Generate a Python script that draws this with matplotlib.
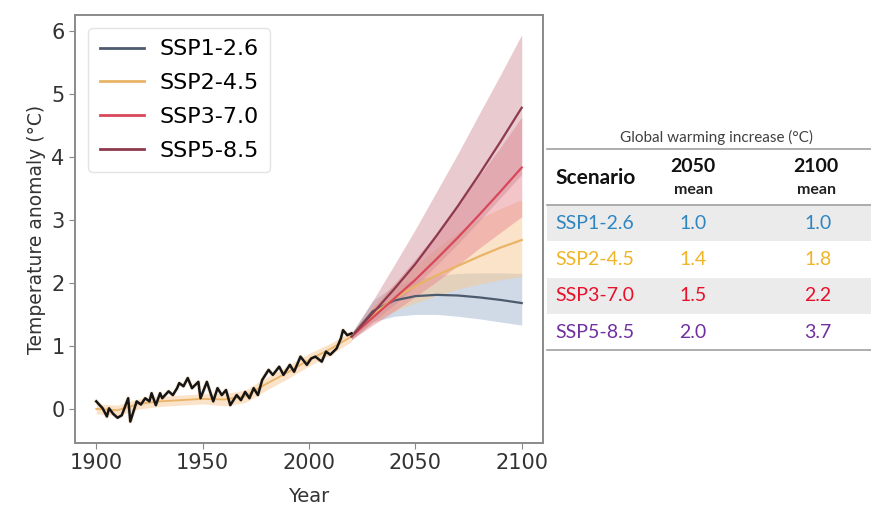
import matplotlib
matplotlib.use("Agg")
import matplotlib.pyplot as plt
from matplotlib.patches import Rectangle
from matplotlib.lines import Line2D

# ---------------- data ----------------
hist_years = [1900, 1903, 1905, 1906, 1908, 1910, 1912, 1915, 1916, 1919, 1921, 1923,
              1925, 1926, 1928, 1930, 1931, 1934, 1936, 1938, 1939, 1941, 1943, 1945,
              1948, 1949, 1952, 1955, 1957, 1959, 1961, 1963, 1966, 1968, 1970, 1972,
              1974, 1976, 1978, 1981, 1983, 1986, 1988, 1991, 1993, 1996, 1999, 2001,
              2003, 2006, 2008, 2010, 2013, 2015, 2016, 2018, 2020]
hist_obs = [0.12, 0.01, -0.12, 0.01, -0.08, -0.14, -0.10, 0.17, -0.20, 0.12, 0.07, 0.17,
            0.12, 0.25, 0.06, 0.25, 0.17, 0.28, 0.22, 0.33, 0.41, 0.36, 0.49, 0.33,
            0.43, 0.17, 0.43, 0.12, 0.33, 0.22, 0.30, 0.06, 0.22, 0.14, 0.27, 0.17,
            0.33, 0.22, 0.46, 0.62, 0.54, 0.67, 0.54, 0.70, 0.59, 0.83, 0.70, 0.80,
            0.83, 0.75, 0.91, 0.86, 0.96, 1.12, 1.25, 1.17, 1.20]

model_years = [1900, 1910, 1920, 1930, 1940, 1950, 1960, 1970, 1980, 1990, 2000, 2010, 2020]
model_hist = [0.00, -0.02, 0.08, 0.12, 0.14, 0.16, 0.15, 0.20, 0.40, 0.58, 0.78, 0.95, 1.15]
model_hist_lo = [-0.08, -0.10, 0.00, 0.04, 0.06, 0.08, 0.05, 0.10, 0.30, 0.48, 0.68, 0.86, 1.07]
model_hist_hi = [0.08, 0.06, 0.16, 0.20, 0.22, 0.24, 0.24, 0.30, 0.50, 0.68, 0.88, 1.04, 1.23]

proj_years = [2020, 2030, 2040, 2050, 2060, 2070, 2080, 2090, 2100]
scenarios = ["SSP1-2.6", "SSP2-4.5", "SSP3-7.0", "SSP5-8.5"]
ssp126 = [1.15, 1.55, 1.72, 1.79, 1.81, 1.80, 1.77, 1.73, 1.68]
ssp126_lo = [1.10, 1.38, 1.47, 1.50, 1.50, 1.47, 1.43, 1.38, 1.33]
ssp126_hi = [1.20, 1.72, 1.95, 2.05, 2.12, 2.15, 2.16, 2.16, 2.15]
ssp245 = [1.15, 1.50, 1.75, 1.95, 2.12, 2.27, 2.42, 2.56, 2.68]
ssp245_lo = [1.10, 1.38, 1.55, 1.68, 1.80, 1.90, 1.98, 2.05, 2.10]
ssp245_hi = [1.20, 1.65, 1.98, 2.28, 2.55, 2.80, 3.02, 3.18, 3.32]
ssp370 = [1.15, 1.45, 1.75, 2.05, 2.38, 2.72, 3.08, 3.45, 3.83]
ssp370_lo = [1.10, 1.33, 1.55, 1.78, 2.02, 2.28, 2.55, 2.80, 3.05]
ssp370_hi = [1.20, 1.60, 1.98, 2.38, 2.80, 3.25, 3.70, 4.15, 4.63]
ssp585 = [1.15, 1.52, 1.90, 2.30, 2.75, 3.22, 3.72, 4.24, 4.78]
ssp585_lo = [1.10, 1.38, 1.65, 1.95, 2.28, 2.62, 2.98, 3.35, 3.72]
ssp585_hi = [1.20, 1.72, 2.28, 2.85, 3.45, 4.05, 4.68, 5.30, 5.94]

x_ticks = [1900, 1950, 2000, 2050, 2100]
y_ticks = [0, 1, 2, 3, 4, 5, 6]

table_title = "Global warming increase (°C)"
table_cols = ["2050", "2100"]
mean_2050 = ["1.0", "1.4", "1.5", "2.0"]
mean_2100 = ["1.0", "1.8", "2.2", "3.7"]

# ---------------- styles ----------------
line_colors = ["#4d5b6e", "#e9b466", "#d9475a", "#8e3a4e"]
band_colors = ["#a9bdd3", "#f9c994", "#e98a92", "#cf8a96"]
band_alphas = [0.55, 0.5, 0.5, 0.45]
text_colors = ["#2e86c1", "#f0b429", "#e8102a", "#7030a0"]

fig = plt.figure(figsize=(8.71, 5.09), dpi=100)
ax = fig.add_axes([0.0861, 0.1297, 0.5373, 0.8408])

# historical model band + line
ax.fill_between(model_years, model_hist_lo, model_hist_hi, color="#f9c994", alpha=0.5, lw=0)
ax.plot(model_years, model_hist, color="#e9b466", lw=1.3)

proj = [(ssp126, ssp126_lo, ssp126_hi), (ssp245, ssp245_lo, ssp245_hi),
        (ssp370, ssp370_lo, ssp370_hi), (ssp585, ssp585_lo, ssp585_hi)]
for (m, lo, hi), name, lc, bc, ba in zip(proj, scenarios, line_colors, band_colors, band_alphas):
    ax.fill_between(proj_years, lo, hi, color=bc, alpha=ba, lw=0)
for (m, lo, hi), name, lc in zip(proj, scenarios, line_colors):
    ax.plot(proj_years, m, color=lc, lw=1.6, label=name)

ax.plot(hist_years, hist_obs, color="#f5c48a", lw=3.0, alpha=0.35)
ax.plot(hist_years, hist_obs, color="#151515", lw=1.8)

ax.set_xlim(1890, 2110)
ax.set_ylim(-0.54, 6.25)
ax.set_xticks(x_ticks)
ax.set_yticks(y_ticks)
ax.tick_params(labelsize=15, colors="#333333", length=4, color="#888888")
ax.set_xlabel("Year", fontsize=14, color="#333333", labelpad=10)
ax.set_ylabel("Temperature anomaly (°C)", fontsize=13.5, color="#333333")
for s in ax.spines.values():
    s.set_color("#8a8a8a")
    s.set_linewidth(1.4)

leg = ax.legend(loc="upper left", fontsize=16, frameon=True, handlelength=2.0,
                borderpad=0.5, labelspacing=0.62, handletextpad=0.7,
                bbox_to_anchor=(0.005, 0.995))
leg.get_frame().set_edgecolor("#dddddd")
for h in leg.get_lines():
    h.set_linewidth(2.0)

# ---------------- table ----------------
W, H = 871.0, 509.0
def fx(px):
    return px / W
def fy(py):
    return 1 - py / H

tf = "Lato"
fig.text(fx(716), fy(137), table_title, ha="center", va="center", fontsize=11, color="#404040", family=tf)
fig.add_artist(Line2D([fx(547), fx(871)], [fy(149), fy(149)], color="#a0a0a0", lw=1.2))
fig.text(fx(555), fy(178), "Scenario", ha="left", va="center", fontsize=15, fontweight="bold", color="#111111", family=tf)
for col, cx in zip(table_cols, [693, 816]):
    fig.text(fx(cx), fy(167), col, ha="center", va="center", fontsize=14, fontweight="bold", color="#111111", family=tf)
    fig.text(fx(cx), fy(190), "mean", ha="center", va="center", fontsize=11.5, fontweight="bold", color="#222222", family=tf)
fig.add_artist(Line2D([fx(547), fx(871)], [fy(205), fy(205)], color="#a0a0a0", lw=1.2))

row_h = 36.3
for i, name in enumerate(scenarios):
    top = 205 + i * row_h
    if i % 2 == 0:
        fig.add_artist(Rectangle((fx(547), fy(top + row_h)), fx(871) - fx(547), row_h / H,
                                 facecolor="#ebebeb", edgecolor="none"))
    cy = top + row_h / 2
    fig.text(fx(555), fy(cy), name, ha="left", va="center", fontsize=14, color=text_colors[i], family=tf)
    fig.text(fx(693), fy(cy), mean_2050[i], ha="center", va="center", fontsize=14, color=text_colors[i], family=tf)
    fig.text(fx(818), fy(cy), mean_2100[i], ha="center", va="center", fontsize=14, color=text_colors[i], family=tf)
fig.add_artist(Line2D([fx(547), fx(871)], [fy(350), fy(350)], color="#a0a0a0", lw=1.2))

fig.savefig("out.png", dpi=100)
